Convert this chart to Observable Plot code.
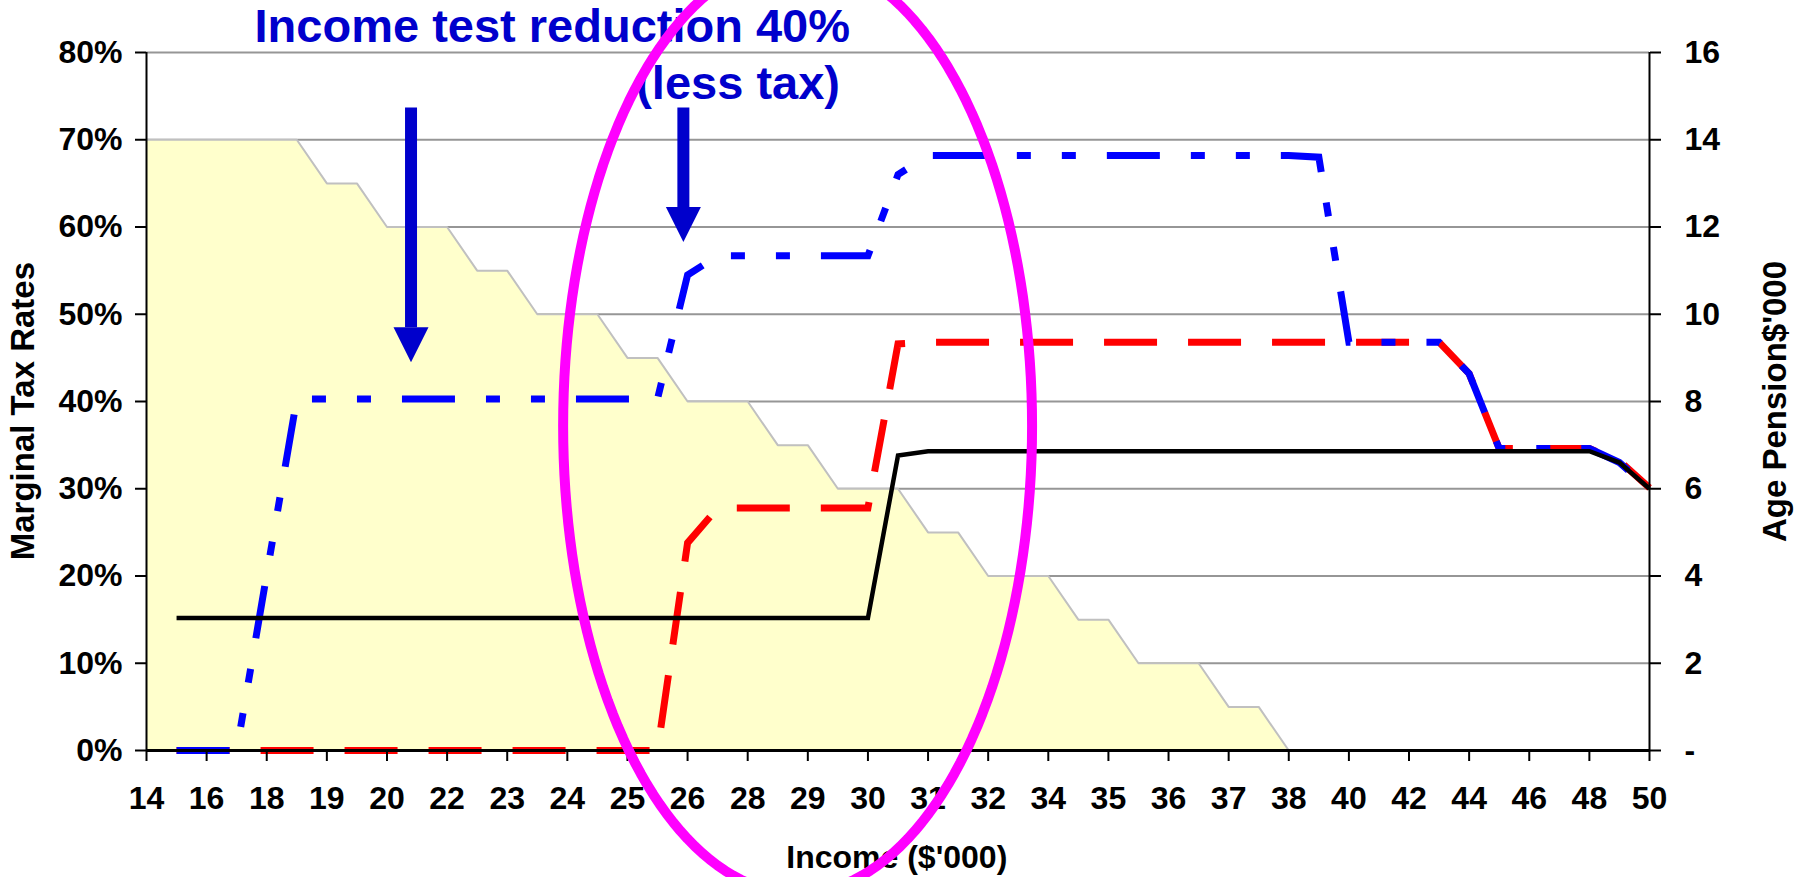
<!DOCTYPE html>
<html>
<head>
<meta charset="utf-8">
<script src="https://cdn.jsdelivr.net/npm/d3@7"></script>
<script src="https://cdn.jsdelivr.net/npm/@observablehq/plot@0.6"></script>
<style>
  html, body { margin: 0; padding: 0; background: #fff; overflow: hidden; }
</style>
</head>
<body>
<div id="chart"></div>
<script>
// ---- Category axis (income, $'000): one tick per category, data at half-category steps
const xTickLabels = ["14","16","18","19","20","22","23","24","25","26","28","29","30",
                     "31","32","34","35","36","37","38","40","42","44","46","48","50"];
const halfSteps = d3.range(51).map(i => i / 2);

// ---- Age Pension ($'000, right axis) - yellow area
const agePension = [14,14,14,14,14,14,13,13,12,12,12,11,11,10,10,10,9,9,8,8,8,7,7,6,6,6,
                    5,5,4,4,4,3,3,2,2,2,1,1,0,0,0,0,0,0,0,0,0,0,0,0,0];

// ---- Marginal tax rates (%, left axis)
const mtrBlack = [null,
  15.2,15.2,15.2,15.2,15.2,15.2,15.2,15.2,15.2,15.2,15.2,15.2,
  15.2,15.2,15.2,15.2,15.2,15.2,15.2,15.2,15.2,15.2,15.2,15.2,
  33.8,
  34.3,34.3,34.3,34.3,34.3,34.3,34.3,34.3,34.3,34.3,34.3,34.3,
  34.3,34.3,34.3,34.3,34.3,34.3,34.3,34.3,34.3,34.3,34.3,
  33.0,30.0];
const mtrRed = [null,
  0,0,0,0,0,0,0,0,0,0,0,0,0,0,0,0,0,
  23.8,
  27.8,27.8,27.8,27.8,27.8,27.8,
  46.6,
  46.8,46.8,46.8,46.8,46.8,46.8,46.8,46.8,46.8,46.8,46.8,46.8,46.8,46.8,46.8,46.8,46.8,46.8,
  43.2,
  34.6,34.6,34.6,34.6,
  33.2,30.1];
const mtrBlue = [null,
  0,0,0,
  20.2,
  40.3,40.3,40.3,40.3,40.3,40.3,40.3,40.3,40.3,40.3,40.3,40.3,40.3,
  54.5,
  56.7,56.7,56.7,56.7,56.7,56.7,
  66.0,
  68.2,68.2,68.2,68.2,68.2,68.2,68.2,68.2,68.2,68.2,68.2,68.2,68.2,
  68.0,
  46.8,46.8,46.8,46.8,
  43.2,
  34.6,34.6,34.6,34.6,
  33.0,30.0];

const percentTicks = [0,10,20,30,40,50,60,70,80];
const pensionToPercent = 5; // 16 ($'000) on the right axis <-> 80% on the left axis

// ---- Axis titles and annotations (data coordinates: x in category units, y in %)
const axisTitles = [
  {text: "Marginal Tax Rates", x: -2.04, y: 38.9, rotate: -90, size: 33},
  {text: "Age Pension$'000", x: 27.1, y: 40, rotate: -90, size: 33},
  {text: "Income ($'000)", x: 12.48, y: -12.3, rotate: 0, size: 32}
];
const noteTexts = [
  {text: "Income test reduction 40%", x: 6.75, y: 81.2},
  {text: "(less tax)", x: 9.84, y: 74.7}
];
const noteArrows = [
  {x: 4.40, top: 73.7, head: 48.5},
  {x: 8.93, top: 73.7, head: 62.3}
];
const highlight = {cx: 10.83, cy: 37.2, rx: 3.9, ry: 53.6};

const rows = halfSteps.map((x, i) => ({
  x, pension: agePension[i], black: mtrBlack[i], red: mtrRed[i], blue: mtrBlue[i]
}));
const ellipsePts = d3.range(0, 360, 2).map(a => ({
  x: highlight.cx + highlight.rx * Math.cos(a * Math.PI / 180),
  y: highlight.cy + highlight.ry * Math.sin(a * Math.PI / 180)
}));
const arrowHead = {
  draw(ctx, size) {
    const w = Math.sqrt(size);
    ctx.moveTo(-w / 2, 0);
    ctx.lineTo(w / 2, 0);
    ctx.lineTo(0, w);
    ctx.closePath();
  }
};

const font = "'Liberation Sans', Arial, Helvetica, sans-serif";
const navy = "#0000CC";

const chart = Plot.plot({
  width: 1806,
  height: 877,
  marginLeft: 146,
  marginRight: 157,
  marginTop: 52,
  marginBottom: 127,
  style: {fontFamily: font, fontSize: "32px", fontWeight: "bold", color: "black", background: "white", overflow: "visible"},
  x: {domain: [0, 25]},
  y: {domain: [0, 80]},
  marks: [
    Plot.ruleY(percentTicks.filter(d => d > 0), {stroke: "#969696", strokeWidth: 2}),
    Plot.areaY(rows, {x: "x", y: d => d.pension * pensionToPercent, fill: "#FFFFCC", curve: "linear"}),
    Plot.lineY(rows, {x: "x", y: d => d.pension * pensionToPercent, stroke: "#C0C0C0", strokeWidth: 2}),
    Plot.line(rows, {x: "x", y: "red", stroke: "#FF0000", strokeWidth: 7,
      strokeDasharray: "53,31", strokeLinecap: "butt", strokeLinejoin: "miter", strokeMiterlimit: 4}),
    Plot.line(rows, {x: "x", y: "blue", stroke: "#0000FF", strokeWidth: 7,
      strokeDasharray: "53,31,14,31,14,31", strokeLinecap: "butt", strokeLinejoin: "miter", strokeMiterlimit: 4}),
    Plot.line(rows, {x: "x", y: "black", stroke: "#000000", strokeWidth: 4.5,
      strokeLinecap: "butt", strokeLinejoin: "miter", strokeMiterlimit: 4}),
    // axes
    Plot.axisY(percentTicks, {anchor: "left", tickFormat: d => d + "%", tickSize: 11, tickPadding: 13,
      fontSize: 32, fontWeight: "bold", strokeWidth: 2, label: null}),
    Plot.axisY(percentTicks, {anchor: "right", tickFormat: d => d === 0 ? "-" : String(d / pensionToPercent),
      tickSize: 11, tickPadding: 24, fontSize: 32, fontWeight: "bold", strokeWidth: 2, label: null}),
    Plot.axisX(d3.range(xTickLabels.length), {anchor: "bottom", tickFormat: i => xTickLabels[i],
      tickSize: 11, tickPadding: 25, fontSize: 32, fontWeight: "bold", strokeWidth: 2, label: null}),
    Plot.ruleX([0, 25], {stroke: "black", strokeWidth: 2}),
    Plot.ruleY([0], {stroke: "black", strokeWidth: 3}),
    // axis titles
    Plot.text(axisTitles, {x: "x", y: "y", text: "text", rotate: "rotate", fontSize: "size",
      fontWeight: "bold", fill: "black", lineAnchor: "middle"}),
    // annotations
    Plot.text(noteTexts, {x: "x", y: "y", text: "text", fill: navy, fontSize: 47, fontWeight: "bold", lineAnchor: "bottom"}),
    Plot.link(noteArrows, {x1: "x", x2: "x", y1: "top", y2: "head", stroke: navy, strokeWidth: 12}),
    Plot.dot(noteArrows, {x: "x", y: "head", symbol: arrowHead, r: 35 / Math.sqrt(Math.PI), fill: navy, stroke: null}),
    Plot.line(ellipsePts, {x: "x", y: "y", curve: "linear-closed", stroke: "#FF00FF", strokeWidth: 10})
  ]
});
document.getElementById("chart").appendChild(chart);
</script>
</body>
</html>
